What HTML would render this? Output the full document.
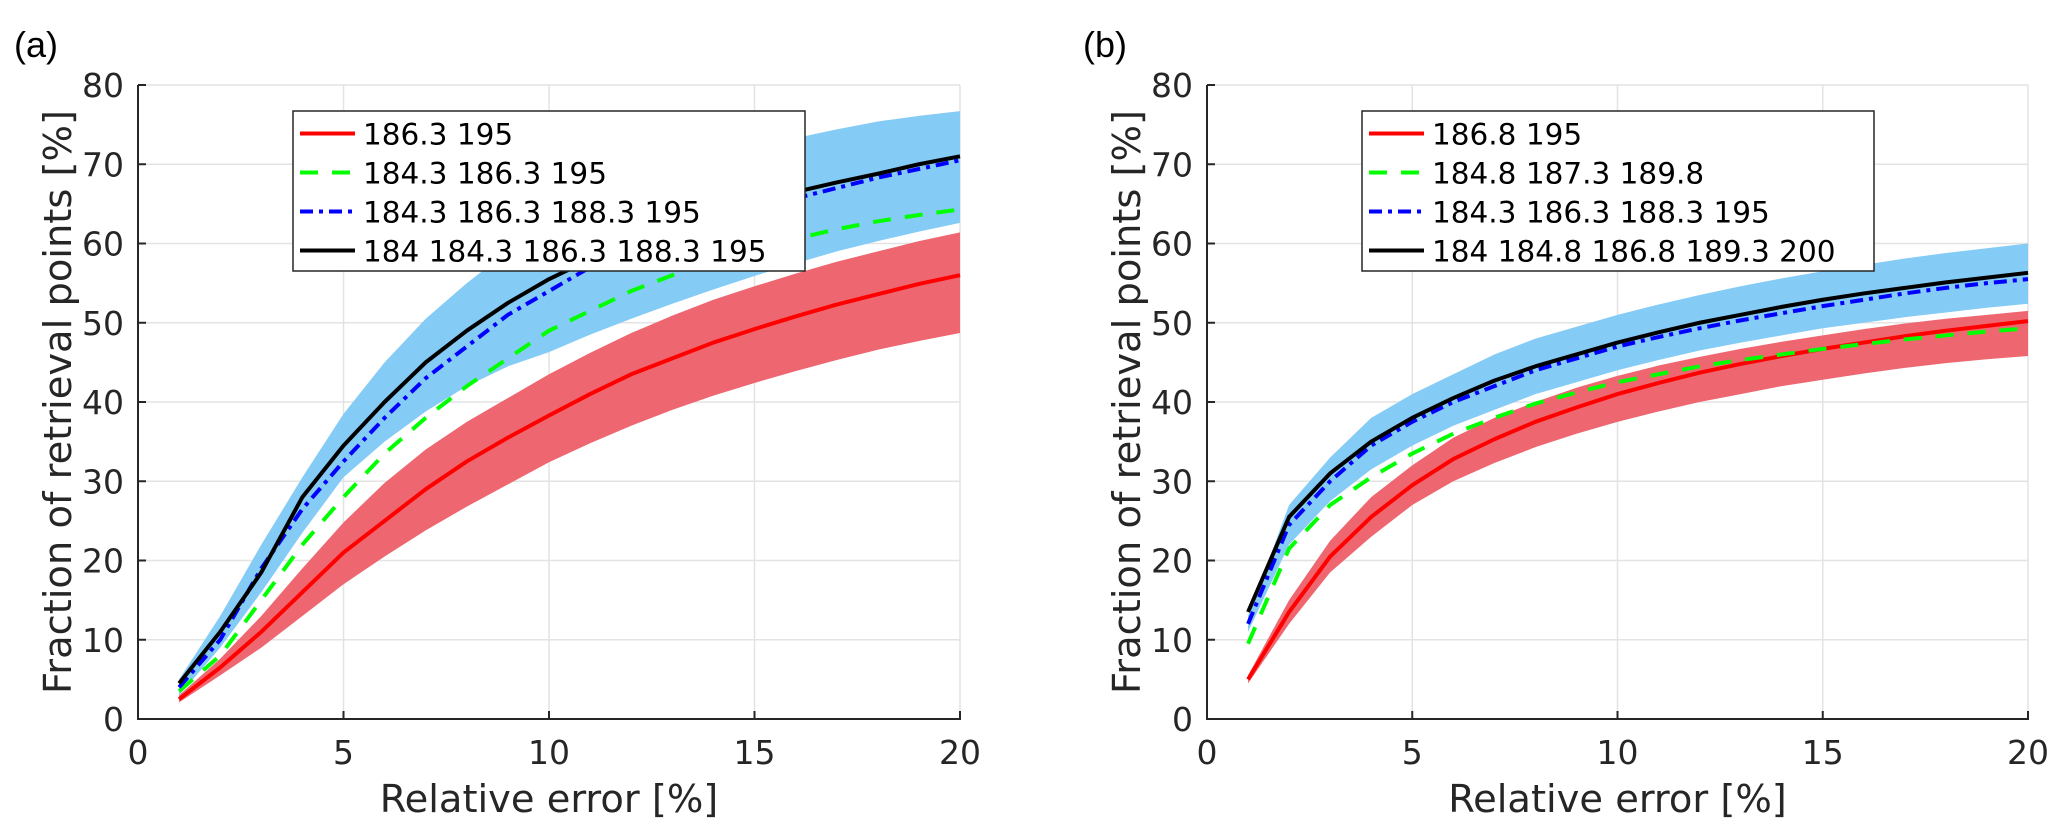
<!DOCTYPE html>
<html><head><meta charset="utf-8"><style>
html,body{margin:0;padding:0;background:#fff;}
svg{display:block;font-family:"DejaVu Sans","Liberation Sans",sans-serif;}
</style></head><body>
<svg id="chart" width="2067" height="835" viewBox="0 0 2067 835" xmlns="http://www.w3.org/2000/svg"></svg>
<script>
const xValues=[1,2,3,4,5,6,7,8,9,10,11,12,13,14,15,16,17,18,19,20];
const xTicks=[0,5,10,15,20];
const yTicks=[0,10,20,30,40,50,60,70,80];
// Panel (a)
const aRedMean=[2.5,6.5,11,16,21,25,29,32.5,35.5,38.3,41,43.5,45.5,47.5,49.2,50.8,52.3,53.6,54.9,56];
const aRedLow=[2.1,5.5,9,13,17,20.5,23.8,26.8,29.6,32.4,34.8,37,39,40.8,42.4,43.9,45.3,46.6,47.7,48.7];
const aRedHigh=[3,7.6,13,19,24.8,29.8,34,37.5,40.5,43.5,46.2,48.7,50.9,52.9,54.6,56.2,57.7,59,60.3,61.4];
const aBlueLow=[3,9,16,23.5,30.5,35,38.8,42,44.5,46.3,48.5,50.5,52.4,54.2,55.9,57.5,59,60.3,61.5,62.6];
const aBlueHigh=[5,13,22,30.5,38.5,45,50.5,55,59,62.5,65,67,69,70.5,72,73.3,74.4,75.4,76.1,76.7];
const aGreen=[3.5,8,15,22,28,33.5,38,42,45.5,49,51.5,54,56,57.8,59.3,60.6,61.8,62.8,63.6,64.3];
const aBlue=[4,10,19,26.5,32.5,38,43,47,51,54,57,59,61,62.7,64.2,65.7,67,68.3,69.4,70.5];
const aBlack=[4.5,11,18.5,28,34.5,40,45,49,52.5,55.5,58,60,62,63.8,65.2,66.5,67.7,68.8,70,71];
const aLabels=["186.3 195","184.3 186.3 195","184.3 186.3 188.3 195","184 184.3 186.3 188.3 195"];
// Panel (b)
const bRedMean=[5,13.5,20.5,25.5,29.5,32.8,35.3,37.5,39.3,41,42.4,43.7,44.8,45.8,46.7,47.5,48.3,49,49.6,50.2];
const bRedLow=[4.5,12,18.5,23,27,30,32.3,34.3,36,37.5,38.8,40,41,42,42.8,43.6,44.3,44.9,45.4,45.8];
const bRedHigh=[5.5,15,22.5,28,32,35.5,38,40,41.8,43.3,44.6,45.7,46.7,47.6,48.4,49.2,49.9,50.5,51,51.5];
const bBlueLow=[11,22,27.5,31.5,34.5,37,39,41,42.5,44,45.3,46.5,47.5,48.4,49.3,50,50.7,51.3,51.9,52.4];
const bBlueHigh=[13,27,33,38,41,43.5,46,48,49.5,51,52.3,53.5,54.6,55.6,56.5,57.3,58.1,58.8,59.4,60];
const bGreen=[9.5,21.5,27,30.5,33.5,36,38,39.8,41.2,42.5,43.5,44.5,45.3,46,46.7,47.3,47.9,48.4,48.9,49.3];
const bBlue=[12,24.5,30,34.5,37.5,40,42,44,45.5,47,48.2,49.3,50.3,51.2,52.1,52.9,53.7,54.4,55,55.5];
const bBlack=[13.5,25.5,31,35,38,40.5,42.7,44.5,46,47.5,48.8,50,51,52,52.9,53.7,54.4,55.1,55.7,56.3];
const bLabels=["186.8 195","184.8 187.3 189.8","184.3 186.3 188.3 195","184 184.8 186.8 189.3 200"];

const NS="http://www.w3.org/2000/svg";
const svg=document.getElementById('chart');
function mk(tag,attrs,parent){const e=document.createElementNS(NS,tag);for(const k in attrs)e.setAttribute(k,attrs[k]);(parent||svg).appendChild(e);return e;}

const styles={
 red:{stroke:"#ff0000",dash:""},
 green:{stroke:"#00ff00",dash:"18 14"},
 blue:{stroke:"#0000ff",dash:"13 6 4 6"},
 black:{stroke:"#000000",dash:""}
};

function panel(id,x0,x1,letter,lx,lw,d){
 const y0=719,y1=85;
 const X=v=>x0+(v-0)/20*(x1-x0);
 const Y=v=>y0-(v/80)*(y0-y1);
 const g=mk('g',{});
 
 
 // grid
 xTicks.forEach(t=>{if(t>0){const l=mk('line',{x1:X(t),x2:X(t),y1:y0,y2:y1,stroke:"#e3e3e3","stroke-width":1.5},g);}});
 yTicks.forEach(t=>{if(t>0){const l=mk('line',{x1:x0,x2:x1,y1:Y(t),y2:Y(t),stroke:"#e3e3e3","stroke-width":1.5},g);}});
 // bands
 function band(lo,hi,col,name){
  let p=xValues.map((v,i)=>X(v)+","+Y(hi[i])).join(" ")+" "+xValues.map((v,i)=>X(v)+","+Y(lo[i])).reverse().join(" ");
  const e=mk('polygon',{points:p,fill:col,stroke:"none"},g);
  
  
 }
 band(d.blueLow,d.blueHigh,"#84cbf5","blue-confidence-band");
 band(d.redLow,d.redHigh,"#ee6670","red-confidence-band");
 function line(arr,st,name){
  const e=mk('polyline',{points:xValues.map((v,i)=>X(v)+","+Y(arr[i])).join(" "),fill:"none",stroke:styles[st].stroke,"stroke-width":4,"stroke-dasharray":styles[st].dash,"stroke-linejoin":"round"},g);
  
  
 }
 line(d.red,'red','series-red');
 line(d.green,'green','series-green');
 line(d.blue,'blue','series-blue');
 line(d.black,'black','series-black');
 // axes
 const ax=mk('path',{d:`M${x0},${y1} L${x0},${y0} L${x1},${y0} L${x1},${y0-8}`,fill:"none",stroke:"#262626","stroke-width":2},g);
 
 
 yTicks.forEach(t=>{const tk=mk('line',{x1:x0,x2:x0+8,y1:Y(t),y2:Y(t),stroke:"#262626","stroke-width":2},g);
  const tx=mk('text',{x:x0-14,y:Y(t)+12,"text-anchor":"end","font-size":33,fill:"#262626"},g);tx.textContent=t;});
 xTicks.forEach(t=>{const tk=mk('line',{x1:X(t),x2:X(t),y1:y0,y2:y0-8,stroke:"#262626","stroke-width":2},g);
  const tx=mk('text',{x:X(t),y:764,"text-anchor":"middle","font-size":33,fill:"#262626"},g);tx.textContent=t;});
 const xl=mk('text',{x:(x0+x1)/2,y:812,"text-anchor":"middle","font-size":38.4,fill:"#262626"},g);xl.textContent="Relative error [%]";
 
 const yl=mk('text',{x:0,y:0,"text-anchor":"middle","font-size":38.4,fill:"#262626",transform:`translate(${x0-67},402) rotate(-90)`},g);yl.textContent="Fraction of retrieval points [%]";
 
 const pl=mk('text',{x:x0-124,y:57,"font-size":36,fill:"#000","font-family":"Liberation Sans, sans-serif"},g);pl.textContent=letter;
 
 // legend
 const lg=mk('g',{},g);
 
 
 mk('rect',{x:lx,y:111,width:lw,height:160,fill:"#fff",stroke:"#262626","stroke-width":1.5},lg);
 ['red','green','blue','black'].forEach((s,i)=>{
  const cy=133.5+i*39;
  const ent=mk('g',{},lg);
  
  
  mk('line',{x1:lx+7,x2:lx+62,y1:cy,y2:cy,stroke:styles[s].stroke,"stroke-width":4,"stroke-dasharray":styles[s].dash},ent);
  const t=mk('text',{x:lx+70,y:cy+11,"font-size":29.5,fill:"#000"},ent);t.textContent=d.labels[i];
 });
}
panel('a',138,960,'(a)',293,512,{red:aRedMean,redLow:aRedLow,redHigh:aRedHigh,blueLow:aBlueLow,blueHigh:aBlueHigh,green:aGreen,blue:aBlue,black:aBlack,labels:aLabels});
panel('b',1207,2028,'(b)',1362,512,{red:bRedMean,redLow:bRedLow,redHigh:bRedHigh,blueLow:bBlueLow,blueHigh:bBlueHigh,green:bGreen,blue:bBlue,black:bBlack,labels:bLabels});
</script>
</body></html>
